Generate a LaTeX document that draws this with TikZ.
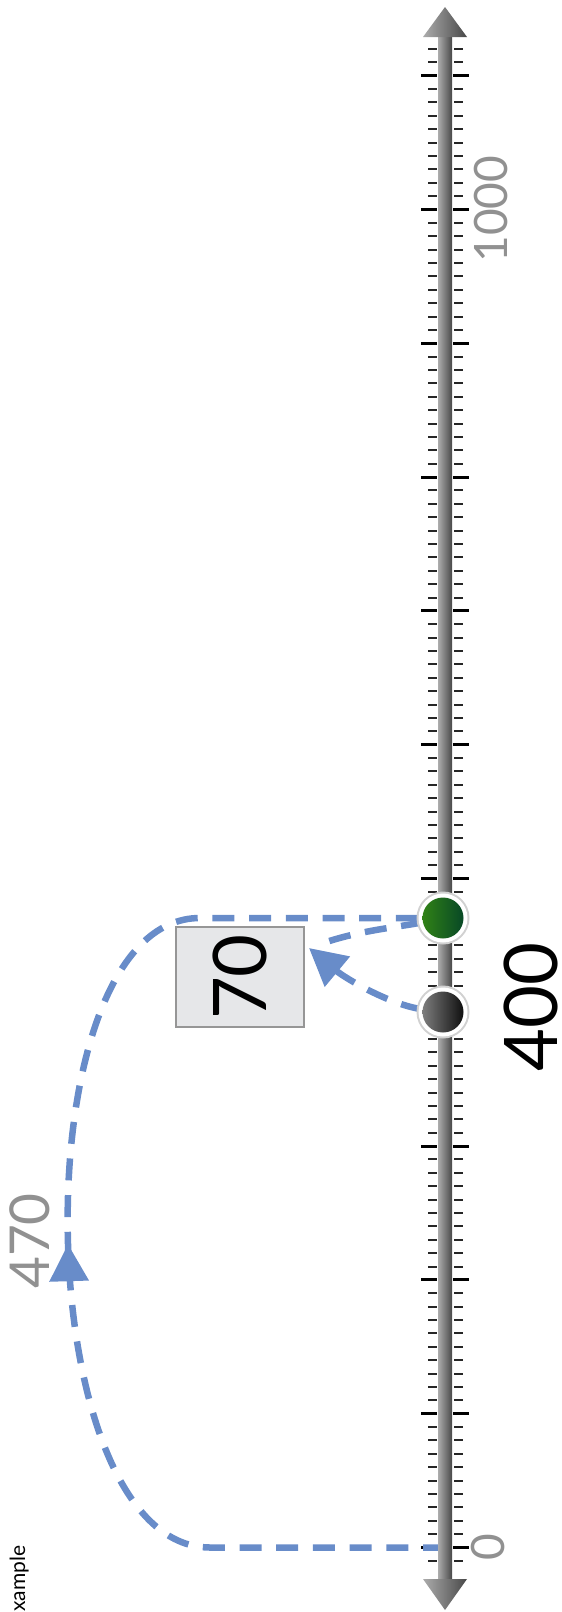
\documentclass[tikz,border=0pt]{standalone}
\usepackage{fontspec}
\setmainfont{Lato}
\usepackage{graphicx}
\usetikzlibrary{arrows.meta,decorations.markings,calc}
\definecolor{dashblue}{RGB}{104,140,201}
\definecolor{lblgray}{RGB}{145,145,145}
\definecolor{boxfill}{RGB}{230,231,233}
\definecolor{boxline}{RGB}{150,150,150}
\definecolor{barlight}{RGB}{172,172,172}
\definecolor{bardark}{RGB}{72,72,72}
\definecolor{greenL}{RGB}{48,130,22}
\definecolor{greenR}{RGB}{8,72,38}
\definecolor{blackL}{RGB}{125,125,125}
\definecolor{blackR}{RGB}{15,15,15}
\pgfdeclarelayer{axislayer}
\pgfdeclarelayer{connlayer}
\pgfsetlayers{axislayer,connlayer,main}
\tikzset{
  conn/.style={draw, color=dashblue, line width=6.5pt, dash pattern=on 22pt off 14.7pt},
  bigtip/.style={-{Triangle[length=37pt,width=38pt]}},
  minortick/.style={line width=2pt, draw=black!85},
  majortick/.style={line width=3pt, draw=black},
  axislabel/.style={rotate=90, text=lblgray, font=\fontsize{46}{50}\selectfont, inner sep=0pt},
  biglabel/.style={rotate=90, font=\fontsize{74}{80}\selectfont, inner sep=0pt},
  dotnode/.style={circle, minimum size=41pt, inner sep=0pt},
  barshade/.style={left color=barlight, right color=bardark},
}
\begin{document}
\begin{tikzpicture}[x=1pt,y=-1pt]
\useasboundingbox (0,0) rectangle (562,1612);

% ticks
\begin{pgfonlayer}{axislayer}
\foreach \i in {-1,...,112}{\pgfmathsetmacro\yy{1547.5-13.38*\i}
  \draw[minortick] (428,\yy) -- (437,\yy) (454,\yy) -- (463,\yy);}
\foreach \i in {0,...,11}{\pgfmathsetmacro\yy{1547.5-133.8*\i}
  \draw[majortick] (421,\yy) -- (437,\yy) (453,\yy) -- (469,\yy);}
\end{pgfonlayer}

% axis bar and arrow heads
\shade[barshade] (438,37) rectangle (452,1579);
\shade[barshade] (423,37) -- (445,7) -- (467,37) -- cycle;
\shade[barshade] (423,1579) -- (445,1610) -- (467,1579) -- cycle;

% dots
\fill[black!18] (443,918) circle (26.5pt);
\fill[white] (443,918) circle (24.5pt);
\fill[black!18] (443,1012) circle (26.5pt);
\fill[white] (443,1012) circle (24.5pt);
\node[dotnode, left color=greenL, right color=greenR] (green) at (443,918) {};
\node[dotnode, left color=blackL, right color=blackR] (black) at (443,1012) {};

% box
\node[draw=boxline, fill=boxfill, line width=2pt, minimum width=128pt, minimum height=100pt,
      inner sep=0pt, font=\fontsize{74}{80}\selectfont] (box) at (240,977) {\rotatebox{90}{70}};

\coordinate (zero) at (445,1547.5);
\coordinate (boxin) at ($(box.east)+(4,-29)$);

% labels
\node[axislabel] (lbl0) at (488,1547.5) {0};
\node[axislabel] (lbl1000) at (491,209) {1000};
\node[biglabel] (lbl400) at (531,1007) {400};
\node[rotate=90, text=lblgray, font=\fontsize{55}{60}\selectfont, inner sep=0pt] (lbl470) at (30,1241) {470};
\node[rotate=90, anchor=base west, font=\fontsize{21}{24}\selectfont, inner sep=0pt] (ex) at (25,1612) {xample};

% connectors
\begin{pgfonlayer}{connlayer}
\draw[conn, postaction={decorate, decoration={markings,
      mark=at position 0.497 with {\arrow{Triangle[length=37pt,width=38pt]}}}}]
  (zero) -- (210,1547.5) .. controls (27,1547.5) and (17,918) .. (200,918) -- (green);
\draw[conn, bigtip] (black) .. controls (390,1005) and (345,978) .. (boxin);
\draw[conn, shorten >=12pt] (green) .. controls (400,927) and (360,930) .. (boxin);
\end{pgfonlayer}
\end{tikzpicture}
\end{document}
